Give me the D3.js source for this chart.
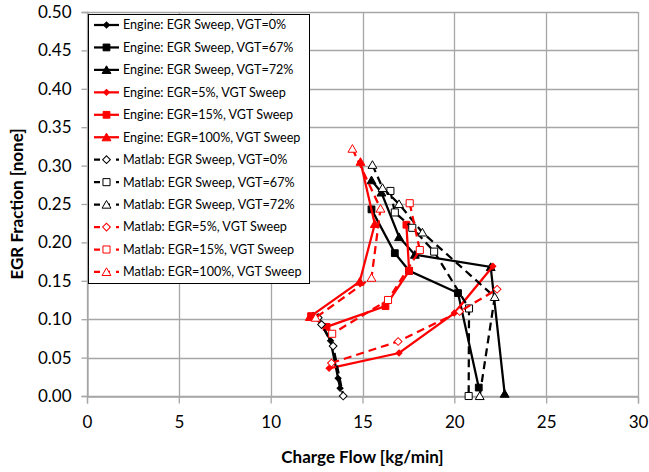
<!DOCTYPE html>
<html><head><meta charset="utf-8">
<script src="https://cdn.jsdelivr.net/npm/d3@7/dist/d3.min.js"></script>
<style>body{margin:0;background:#fff;}svg{display:block;}</style>
</head><body>
<svg id="chart" width="649" height="472"></svg>
<script>
// ---- data (x = charge flow kg/min, y = EGR fraction) ----
const engineVGT0   = [[12.31,0.105],[12.8,0.093],[13.26,0.072],[13.67,0.023],[13.78,0.010]];
const engineVGT67  = [[15.49,0.243],[16.76,0.186],[17.54,0.163],[20.2,0.134],[21.33,0.011]];
const engineVGT72  = [[15.49,0.281],[16.03,0.265],[16.99,0.207],[17.85,0.184],[21.98,0.168],[22.74,0.003]];
const engineEGR5   = [[13.18,0.036],[16.99,0.056],[20.0,0.108],[22.1,0.169]];
const engineEGR15  = [[17.39,0.223],[17.54,0.163],[16.25,0.117],[13.04,0.090],[12.2,0.104]];
const engineEGR100 = [[14.89,0.305],[15.67,0.224],[14.85,0.149],[12.13,0.103]];
const matlabVGT0   = [[12.59,0.102],[12.77,0.093],[13.4,0.065],[13.95,0.0]];
const matlabVGT67  = [[16.52,0.267],[16.76,0.239],[17.71,0.219],[18.9,0.188],[20.8,0.114],[20.78,0.0]];
const matlabVGT72  = [[15.54,0.301],[16.09,0.271],[16.99,0.250],[18.26,0.213],[22.2,0.129],[21.38,0.0]];
const matlabEGR5   = [[13.31,0.043],[16.94,0.071],[20.29,0.110],[22.33,0.139]];
const matlabEGR15  = [[17.57,0.251],[18.12,0.190],[16.39,0.125],[13.35,0.081]];
const matlabEGR100 = [[14.45,0.322],[15.98,0.244],[15.49,0.154],[12.45,0.102]];

const seriesNames = [
  "Engine: EGR Sweep, VGT=0%","Engine: EGR Sweep, VGT=67%","Engine: EGR Sweep, VGT=72%",
  "Engine: EGR=5%, VGT Sweep","Engine: EGR=15%, VGT Sweep","Engine: EGR=100%, VGT Sweep",
  "Matlab: EGR Sweep, VGT=0%","Matlab: EGR Sweep, VGT=67%","Matlab: EGR Sweep, VGT=72%",
  "Matlab: EGR=5%, VGT Sweep","Matlab: EGR=15%, VGT Sweep","Matlab: EGR=100%, VGT Sweep"];
const seriesData = [engineVGT0,engineVGT67,engineVGT72,engineEGR5,engineEGR15,engineEGR100,
  matlabVGT0,matlabVGT67,matlabVGT72,matlabEGR5,matlabEGR15,matlabEGR100];
const seriesColor = ["#000","#000","#000","#f00","#f00","#f00","#000","#000","#000","#f00","#f00","#f00"];
const seriesMarker = ["diamond","square","triangle","diamond","square","triangle","diamond","square","triangle","diamond","square","triangle"];
const seriesHollow = [false,false,false,false,false,false,true,true,true,true,true,true];

const xTicks = [0,5,10,15,20,25,30];
const yTicks = [0,0.05,0.10,0.15,0.20,0.25,0.30,0.35,0.40,0.45,0.50];
const xTitle = "Charge Flow [kg/min]";
const yTitle = "EGR Fraction [none]";

// ---- layout ----
const L = 87, R = 638, T = 12, B = 396;
const svg = d3.select("#chart");
const x = d3.scaleLinear().domain([0,30]).range([L,R]);
const y = d3.scaleLinear().domain([0,0.5]).range([B,T]);
const font = "Lato, 'Open Sans', sans-serif";
const grid = "#a6a6a6";

// gridlines
svg.append("g").selectAll("line.h").data(yTicks).join("line")
  .attr("x1",L).attr("x2",R).attr("y1",d=>Math.round(y(d))+0.5).attr("y2",d=>Math.round(y(d))+0.5)
  .attr("stroke",grid).attr("stroke-width",1.3);
svg.append("g").selectAll("line.v").data(xTicks).join("line")
  .attr("y1",T).attr("y2",B).attr("x1",d=>Math.round(x(d))+0.5).attr("x2",d=>Math.round(x(d))+0.5)
  .attr("stroke",grid).attr("stroke-width",1.3);

// axes
const yAxis = d3.axisLeft(y).tickValues(yTicks).tickFormat(d3.format(".2f")).tickSize(6).tickPadding(10);
const gy = svg.append("g").attr("transform",`translate(${L+0.5},0)`).call(yAxis);
const xAxis = d3.axisBottom(x).tickValues(xTicks).tickFormat(d3.format("d")).tickSize(7).tickPadding(12);
const gx = svg.append("g").attr("transform",`translate(0,${B+0.5})`).call(xAxis);
[gx,gy].forEach(g=>{
  g.select(".domain").attr("stroke",grid).attr("stroke-width",1.3);
  g.selectAll(".tick line").attr("stroke",grid).attr("stroke-width",1.3);
  g.selectAll(".tick text").attr("font-family",font).attr("font-size",17).attr("fill","#000");
});

// titles
svg.append("text").attr("x",(L+R)/2).attr("y",463).attr("text-anchor","middle")
  .attr("font-family",font).attr("font-weight","bold").attr("font-size",17).text(xTitle);
svg.append("text").attr("transform",`translate(23,${(T+B)/2}) rotate(-90)`).attr("text-anchor","middle")
  .attr("font-family",font).attr("font-weight","bold").attr("font-size",17).text(yTitle);

// markers
function markerPath(type, hollow){
  if(type==="diamond") return d3.symbol(d3.symbolSquare, hollow?30:18)();
  if(type==="square") return d3.symbol(d3.symbolSquare, hollow?50:46)();
  return d3.symbol(d3.symbolTriangle, 34)();
}
function drawMarker(g, type, hollow, color, px, py){
  g.append("path").attr("d",markerPath(type,hollow))
    .attr("transform",`translate(${px},${py})`+(type==="diamond"?" rotate(45)":"")+(type==="triangle"?" translate(0,1)":""))
    .attr("fill",hollow?"#fff":color).attr("stroke",color).attr("stroke-width",1);
}

const line = d3.line().x(d=>x(d[0])).y(d=>y(d[1]));
const plot = svg.append("g");
seriesData.forEach((data,i)=>{
  const g = plot.append("g");
  g.append("path").datum(data).attr("d",line).attr("fill","none")
    .attr("stroke",seriesColor[i]).attr("stroke-width",2.25)
    .attr("stroke-dasharray",seriesHollow[i]?"8,5":null);
  data.forEach(d=>drawMarker(g,seriesMarker[i],seriesHollow[i],seriesColor[i],x(d[0]),y(d[1])));
});

// legend
const lg = svg.append("g");
lg.append("rect").attr("x",88.5).attr("y",14.5).attr("width",221).attr("height",269)
  .attr("fill","#fff").attr("stroke","#000").attr("stroke-width",1);
seriesNames.forEach((name,i)=>{
  const cy = 25 + i*22.45;
  const g = lg.append("g");
  g.append("line").attr("x1",94).attr("x2",119).attr("y1",cy).attr("y2",cy)
    .attr("stroke",seriesColor[i]).attr("stroke-width",2.25)
    .attr("stroke-dasharray",seriesHollow[i]?"6,4,6":null);
  drawMarker(g,seriesMarker[i],seriesHollow[i],seriesColor[i],106.5,cy);
  g.append("text").attr("x",123).attr("y",cy).attr("dy","0.35em")
    .attr("font-family",font).attr("font-size",12.6).attr("fill","#000").text(name);
});
</script>
</body></html>
